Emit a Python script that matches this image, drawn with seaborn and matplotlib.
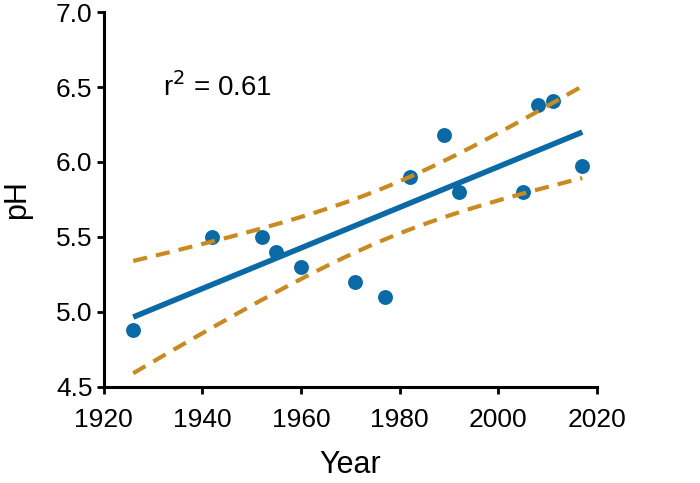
import numpy as np
import pandas as pd
import matplotlib
matplotlib.use("Agg")
import matplotlib.pyplot as plt
import seaborn as sns

# Data
years = [1926, 1942, 1952, 1955, 1960, 1971, 1977, 1982, 1989, 1992, 2005, 2008, 2011, 2017]
ph = [4.88, 5.50, 5.50, 5.40, 5.30, 5.20, 5.10, 5.90, 6.18, 5.80, 5.80, 6.38, 6.41, 5.97]
r2_label = "r$^2$ = 0.61"

x_ticks = [1920, 1940, 1960, 1980, 2000, 2020]
y_ticks = [4.5, 5.0, 5.5, 6.0, 6.5, 7.0]

blue = "#0b6aa6"
orange = "#c98a1f"

df = pd.DataFrame({"Year": years, "pH": ph})

sns.set_theme(style="ticks")
plt.rcParams["font.family"] = ["Liberation Sans", "DejaVu Sans"]
plt.rcParams["text.color"] = "black"
plt.rcParams["axes.labelcolor"] = "black"
plt.rcParams["xtick.color"] = "black"
plt.rcParams["ytick.color"] = "black"

fig = plt.figure(figsize=(7, 4.83), dpi=100)
ax = fig.add_axes([0.148, 0.199, 0.705, 0.776])

sns.regplot(data=df, x="Year", y="pH", ax=ax, ci=None, color=blue,
            scatter_kws={"s": 115, "alpha": 1, "linewidths": 0},
            line_kws={"lw": 4, "solid_capstyle": "butt"})

# 95% confidence band of the fitted line, drawn dashed
x = df["Year"].to_numpy(float)
y = df["pH"].to_numpy(float)
n = len(x)
slope, intercept = np.polyfit(x, y, 1)
resid = y - (slope * x + intercept)
s = np.sqrt(np.sum(resid ** 2) / (n - 2))
t = 2.179  # t(0.975, df=12)
xs = np.linspace(x.min(), x.max(), 200)
se = s * np.sqrt(1 / n + (xs - x.mean()) ** 2 / np.sum((x - x.mean()) ** 2))
fit = slope * xs + intercept
ax.plot(xs, fit + t * se, ls=(0, (3.4, 2.2)), color=orange, lw=3)
ax.plot(xs, fit - t * se, ls=(0, (3.4, 2.2)), color=orange, lw=3)

ax.text(1932, 6.5, r2_label, fontsize=20, va="center", color="black")

ax.set_xlim(1920, 2020)
ax.set_ylim(4.5, 7.0)
ax.set_xticks(x_ticks)
ax.set_yticks(y_ticks)
ax.set_yticklabels([f"{v:.1f}" for v in y_ticks])
ax.set_xlabel("Year", fontsize=22, labelpad=13)
ax.set_ylabel("pH", fontsize=22, labelpad=17)
ax.tick_params(labelsize=19, width=2, length=5, direction="out")
ax.tick_params(axis="x", pad=10)
ax.tick_params(axis="y", pad=3)
sns.despine(ax=ax)
for sp in ["left", "bottom"]:
    ax.spines[sp].set_linewidth(2.2)
    ax.spines[sp].set_color("black")

fig.savefig("out.png", dpi=100)
